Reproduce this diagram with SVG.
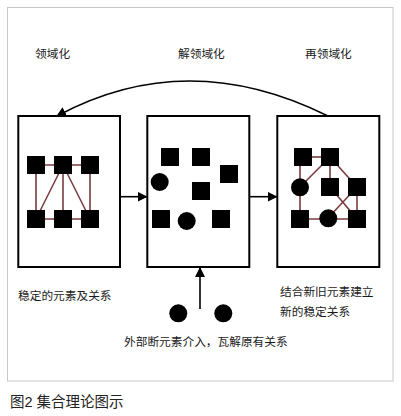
<svg xmlns="http://www.w3.org/2000/svg" width="401" height="416" viewBox="0 0 401 416">
<style>
.t{font-family:"Liberation Sans","Noto Sans CJK SC",sans-serif;font-size:11.7px;fill:#1a1a1a}
.cap{font-family:"Liberation Sans","Noto Sans CJK SC",sans-serif;font-size:14.5px;fill:#222}
.box{fill:#fff;stroke:#000;stroke-width:2}
.sq{fill:#000}
.rel{stroke:#7a3b3f;stroke-width:1.6;fill:none}
.con{stroke:#000;stroke-width:1.6;fill:none}
</style>
<defs>
<marker id="ah" viewBox="0 0 10 10" refX="9" refY="5" markerWidth="10" markerHeight="10" markerUnits="userSpaceOnUse" orient="auto">
<path d="M0,0 L10,5 L0,10 z" fill="#000"/>
</marker>
</defs>
<rect x="0" y="0" width="401" height="416" fill="#fff"/>
<rect x="7.5" y="7.5" width="385.5" height="373.5" fill="#fff" stroke="#c8c8c8" stroke-width="1"/>
<text class="t" x="35" y="57.5">领域化</text>
<text class="t" x="178" y="57.5">解领域化</text>
<text class="t" x="305" y="57.5">再领域化</text>

<g id="box1">
<rect class="box" x="18.3" y="116" width="101.7" height="151"/>
<g class="rel">
<line x1="36" y1="165" x2="90" y2="165"/>
<line x1="36" y1="219" x2="90" y2="219"/>
<line x1="36" y1="165" x2="36" y2="219"/>
<line x1="90" y1="165" x2="90" y2="219"/>
<line x1="63" y1="165" x2="63" y2="219"/>
<line x1="63" y1="165" x2="36" y2="219"/>
<line x1="63" y1="165" x2="90" y2="219"/>
</g>
<rect class="sq" x="27" y="156" width="18" height="18"/>
<rect class="sq" x="54" y="156" width="18" height="18"/>
<rect class="sq" x="81" y="156" width="18" height="18"/>
<rect class="sq" x="27" y="210" width="18" height="18"/>
<rect class="sq" x="54" y="210" width="18" height="18"/>
<rect class="sq" x="81" y="210" width="18" height="18"/>
</g>

<g id="box2">
<rect class="box" x="147.3" y="116" width="102" height="151"/>
<rect class="sq" x="161" y="148" width="18" height="18"/>
<rect class="sq" x="192" y="148" width="18" height="18"/>
<rect class="sq" x="220" y="165" width="18" height="18"/>
<rect class="sq" x="192" y="182" width="18" height="18"/>
<rect class="sq" x="152" y="210" width="18" height="18"/>
<rect class="sq" x="212" y="210" width="18" height="18"/>
<circle cx="159.7" cy="182" r="9" fill="#000"/>
<circle cx="186.7" cy="221" r="9" fill="#000"/>
</g>

<g id="box3">
<rect class="box" x="277.3" y="116" width="102" height="151"/>
<g class="rel">
<line x1="303" y1="157" x2="330" y2="157"/>
<line x1="300" y1="157" x2="300" y2="219"/>
<line x1="330" y1="157" x2="300" y2="187"/>
<line x1="330" y1="157" x2="330" y2="187"/>
<line x1="330" y1="157" x2="357" y2="187"/>
<line x1="357" y1="187" x2="357" y2="219"/>
<line x1="300" y1="219" x2="357" y2="219"/>
<line x1="330" y1="187" x2="357" y2="219"/>
<line x1="357" y1="187" x2="328" y2="218"/>
</g>
<rect class="sq" x="294" y="148" width="18" height="18"/>
<rect class="sq" x="321" y="148" width="18" height="18"/>
<rect class="sq" x="321" y="178" width="18" height="18"/>
<rect class="sq" x="348" y="178" width="18" height="18"/>
<rect class="sq" x="291" y="210" width="18" height="18"/>
<rect class="sq" x="348" y="210" width="18" height="18"/>
<circle cx="300" cy="187.3" r="9" fill="#000"/>
<circle cx="328.3" cy="218.3" r="9" fill="#000"/>
</g>

<g id="external">
<circle cx="178.3" cy="313.3" r="9" fill="#000"/>
<circle cx="223.3" cy="313.3" r="9" fill="#000"/>
</g>

<g id="connectors">
<path class="con" d="M328,116 Q187,46 57,116" marker-end="url(#ah)"/>
<line class="con" x1="120" y1="196.7" x2="146.5" y2="196.7" marker-end="url(#ah)"/>
<line class="con" x1="249.3" y1="196.7" x2="276.5" y2="196.7" marker-end="url(#ah)"/>
<line class="con" x1="200" y1="309" x2="200" y2="268" marker-end="url(#ah)"/>
</g>

<text class="t" x="18" y="299.5">稳定的元素及关系</text>
<text class="t" x="280" y="296">结合新旧元素建立</text>
<text class="t" x="280" y="316">新的稳定关系</text>
<text class="t" x="124" y="346">外部断元素介入，瓦解原有关系</text>
<text class="cap" x="10" y="407">图2 集合理论图示</text>
</svg>
